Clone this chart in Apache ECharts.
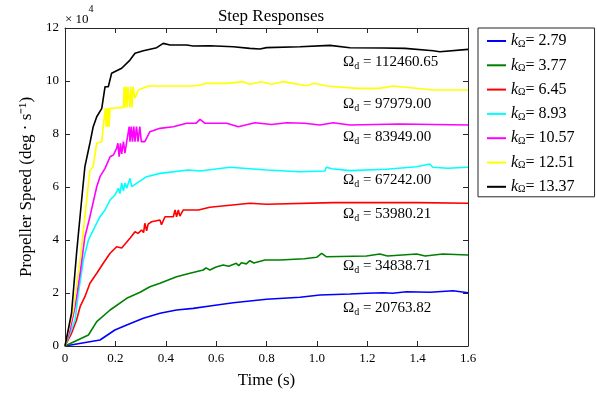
<!DOCTYPE html>
<html><head><meta charset="utf-8">
<script src="https://cdn.jsdelivr.net/npm/echarts@6/dist/echarts.min.js"></script>
<style>html,body{margin:0;padding:0;background:#fff}#c{width:597px;height:398px}</style>
</head><body><div id="c"></div>
<script>
const kValues = ['2.79','3.77','6.45','8.93','10.57','12.51','13.37'];
const omegaD = ['20763.82','34838.71','53980.21','67242.00','83949.00','97979.00','112460.65'];

const blue = [[0,0],[0.139,2260],[0.198,6040],[0.245,7920],[0.311,10440],[0.377,12330],[0.443,13580],[0.509,14210],[0.575,15090],[0.668,16350],[0.8,17620],[0.933,18380],[1.012,19250],[1.131,19620],[1.197,19880],[1.263,20110],[1.3,19880],[1.356,20490],[1.45,20300],[1.541,20870],[1.6,20110]];
const green = [[0,0],[0.093,4150],[0.126,9180],[0.179,13580],[0.245,18000],[0.298,20260],[0.337,22380],[0.377,23660],[0.443,26150],[0.496,27430],[0.549,28680],[0.56,29500],[0.575,28700],[0.6,29800],[0.628,30570],[0.65,30100],[0.68,31200],[0.69,30300],[0.7,31400],[0.72,31000],[0.734,32190],[0.75,31300],[0.794,32450],[0.853,32450],[0.95,32900],[0.999,33470],[1.019,34980],[1.037,33700],[1.197,33960],[1.25,34720],[1.28,33960],[1.396,34720],[1.43,33960],[1.5,34720],[1.6,34340]];
const red = [[0,0],[0.026,4790],[0.046,9810],[0.06,14830],[0.079,18600],[0.099,23660],[0.126,27430],[0.152,31210],[0.179,34980],[0.205,37470],[0.225,37000],[0.258,40630],[0.278,43140],[0.29,42500],[0.304,43770],[0.312,42800],[0.317,46300],[0.324,43500],[0.33,46000],[0.344,46900],[0.377,47550],[0.383,45800],[0.397,48790],[0.43,48790],[0.437,51320],[0.443,48790],[0.45,51320],[0.456,49000],[0.469,51320],[0.53,51320],[0.575,52330],[0.734,53840],[0.8,53500],[1.065,54090],[1.4,54090],[1.6,53840]];
const cyan = [[0,0],[0.02,4790],[0.04,9810],[0.053,19880],[0.073,32450],[0.093,40000],[0.119,45020],[0.139,48800],[0.159,51320],[0.179,55090],[0.198,56980],[0.212,59500],[0.218,57500],[0.225,61500],[0.232,58500],[0.238,61500],[0.245,59500],[0.258,63280],[0.265,60110],[0.271,60110],[0.324,63890],[0.377,65140],[0.489,66420],[0.495,66800],[0.536,66040],[0.655,67430],[0.8,66420],[0.933,65770],[1.032,66040],[1.037,67430],[1.06,66900],[1.131,66170],[1.276,66670],[1.396,67660],[1.448,68680],[1.46,67430],[1.52,67100],[1.6,67430]];
const magenta = [[0,0],[0.02,6040],[0.04,14830],[0.06,27430],[0.079,41250],[0.099,48800],[0.126,60110],[0.139,63890],[0.159,67050],[0.179,71430],[0.192,72080],[0.205,74600],[0.21,76490],[0.215,71430],[0.22,76490],[0.225,72500],[0.232,77120],[0.238,72800],[0.245,77120],[0.255,82760],[0.258,77120],[0.263,82760],[0.268,77120],[0.273,82760],[0.278,77120],[0.284,82760],[0.29,77120],[0.297,82760],[0.303,77120],[0.317,77120],[0.337,80870],[0.377,82130],[0.43,82760],[0.483,84030],[0.52,84030],[0.536,85510],[0.556,84030],[0.642,84030],[0.688,82760],[0.754,84260],[0.82,83600],[0.88,84260],[0.95,84030],[1.012,83390],[1.065,84260],[1.131,83390],[1.329,83770],[1.6,83390]];
const yellow = [[0,0],[0.033,13580],[0.06,32450],[0.079,48800],[0.099,66400],[0.112,67660],[0.126,76490],[0.146,77100],[0.152,82760],[0.16,89700],[0.163,82760],[0.167,89700],[0.17,82760],[0.172,89700],[0.175,82760],[0.179,89700],[0.192,89700],[0.232,90060],[0.235,97850],[0.238,90060],[0.242,97850],[0.246,90060],[0.25,97850],[0.254,97850],[0.258,90060],[0.262,97850],[0.266,90060],[0.27,97850],[0.278,93470],[0.291,96600],[0.331,98110],[0.509,98110],[0.536,98490],[0.562,99120],[0.642,99120],[0.708,99750],[0.734,98800],[0.78,99750],[0.82,98800],[0.866,99750],[0.959,98240],[0.99,99120],[1.038,98110],[1.157,97230],[1.25,97230],[1.303,98110],[1.462,96600],[1.6,96600]];
const black = [[0,0],[0.026,12450],[0.046,35100],[0.066,55100],[0.079,67660],[0.086,67660],[0.099,76600],[0.105,76600],[0.112,82750],[0.126,86500],[0.146,89700],[0.159,97850],[0.172,97850],[0.179,98500],[0.185,102900],[0.225,104800],[0.258,107900],[0.278,110450],[0.311,111400],[0.364,112570],[0.39,114200],[0.417,113600],[0.483,113600],[0.509,113200],[0.575,113300],[0.668,112950],[0.734,112300],[0.774,112100],[0.8,112600],[0.933,112950],[1.052,113460],[1.131,112570],[1.263,112450],[1.35,112300],[1.462,111440],[1.488,111060],[1.6,111950]];

const seriesData = [blue, green, red, cyan, magenta, yellow, black];
const colors = ['#0000ff','#008000','#ff0000','#00ffff','#ff00ff','#ffff00','#000000'];
const annotTop = [310, 268, 216, 182, 139, 106, 64];

const serif = 'Liberation Serif';
const chart = echarts.init(document.getElementById('c'));
const axisCol = '#262626';

const series = seriesData.map((d, i) => ({
  name: kValues[i], type: 'line', data: d, symbol: 'none', showSymbol: false,
  lineStyle: {width: 1.6, color: colors[i]}, itemStyle: {color: colors[i]},
  xAxisIndex: 0, yAxisIndex: 0, animation: false
}));

const graphics = omegaD.map((v, i) => ({
  type: 'text', left: 343, top: annotTop[i] - 9,
  style: {
    text: '{o|Ω}{d|d}{n| = ' + v + '}',
    rich: {
      o: {fontFamily: serif, fontSize: 15, fill: '#000', lineHeight: 18},
      d: {fontFamily: serif, fontSize: 10, fill: '#000', lineHeight: 10, verticalAlign: 'bottom'},
      n: {fontFamily: serif, fontSize: 15, fill: '#000', lineHeight: 18}
    }
  }
}));
graphics.push({
  type: 'text', left: 65, top: 4,
  style: {
    text: '{a|× 10}{b|4}',
    rich: {
      a: {fontFamily: serif, fontSize: 13, fill: '#000', lineHeight: 22, verticalAlign: 'bottom'},
      b: {fontFamily: serif, fontSize: 10, fill: '#000', lineHeight: 22, verticalAlign: 'top'}
    }
  }
});

const baseX = {
  type: 'value', min: 0, max: 1.6, interval: 0.2,
  axisLine: {show: true, onZero: false, lineStyle: {color: axisCol, width: 1}},
  axisTick: {show: true, inside: true, length: 5, lineStyle: {color: axisCol}},
  splitLine: {show: false}
};
const baseY = {
  type: 'value', min: 0, max: 120000, interval: 20000,
  axisLine: {show: true, onZero: false, lineStyle: {color: axisCol, width: 1}},
  axisTick: {show: true, inside: true, length: 5, lineStyle: {color: axisCol}},
  splitLine: {show: false}
};

chart.setOption({
  animation: false,
  backgroundColor: '#fff',
  title: {text: 'Step Responses', left: 266, top: 3, textAlign: 'center',
    textStyle: {fontFamily: serif, fontSize: 17, fontWeight: 'normal', color: '#000'}},
  grid: {left: 65, right: 129, top: 28, bottom: 52},
  legend: {
    orient: 'vertical', left: 478, top: 28,
    padding: [5, 20, 2, 9], itemGap: 8.3,
    itemWidth: 19, itemHeight: 2, icon: 'rect',
    borderColor: axisCol, borderWidth: 1, backgroundColor: '#fff',
    data: kValues,
    formatter: name => '{k|k}{s|Ω}{n|= ' + name + '}',
    textStyle: {
      rich: {
        k: {fontFamily: serif, fontStyle: 'italic', fontSize: 16, color: '#000', lineHeight: 16},
        s: {fontFamily: serif, fontSize: 10, color: '#000', lineHeight: 10, verticalAlign: 'bottom'},
        n: {fontFamily: serif, fontSize: 16, color: '#000', lineHeight: 16}
      }
    }
  },
  xAxis: [
    Object.assign({}, baseX, {
      position: 'bottom',
      name: 'Time (s)', nameLocation: 'middle', nameGap: 26,
      nameTextStyle: {fontFamily: serif, fontSize: 17, color: '#000'},
      axisLabel: {show: true, margin: 6, fontFamily: serif, fontSize: 13, color: '#000',
        formatter: v => v === 0 ? '0' : v.toFixed(1)}
    }),
    Object.assign({}, baseX, {position: 'top', axisLabel: {show: false}})
  ],
  yAxis: [
    Object.assign({}, baseY, {
      position: 'left',
      name: 'Propeller Speed (deg · s⁻¹)', nameLocation: 'middle', nameGap: 30,
      nameTextStyle: {fontFamily: serif, fontSize: 17, color: '#000'},
      axisLabel: {show: true, margin: 6, fontFamily: serif, fontSize: 13, color: '#000',
        formatter: v => String(v / 10000)}
    }),
    Object.assign({}, baseY, {position: 'right', axisLabel: {show: false}})
  ],
  series: series,
  graphic: graphics
});
</script>
</body></html>
